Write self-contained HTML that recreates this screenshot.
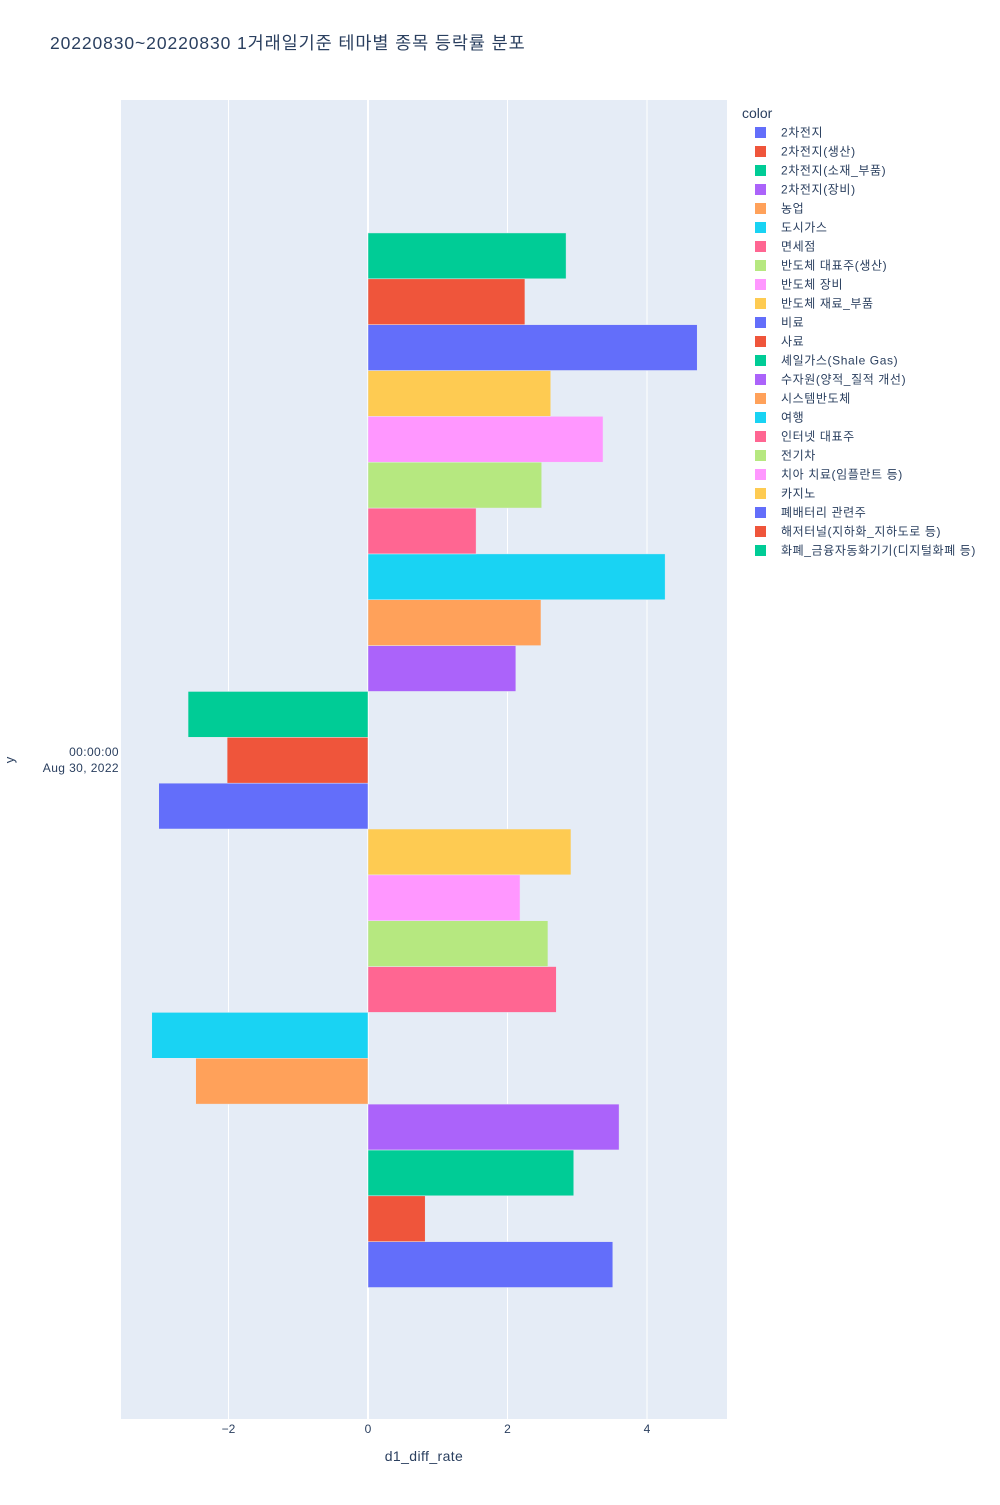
<!DOCTYPE html>
<html><head><meta charset="utf-8"><style>
body{margin:0;background:#fff;font-family:"Liberation Sans","Noto Sans CJK KR",sans-serif;}
</style></head><body>
<svg id="chart" width="1000" height="1500" xmlns="http://www.w3.org/2000/svg" style="font-family:'Liberation Sans','Noto Sans CJK KR',sans-serif">
<text x="50" y="49" font-size="17.5" letter-spacing="0.9" fill="#2a3f5f">20220830~20220830 1거래일기준 테마별 종목 등락률 분포</text>
<rect x="121" y="100" width="606" height="1319" fill="#E5ECF6"/>
<g id="grid"></g><g id="bars"></g><g id="xticks"></g><g id="legend"></g>
<text x="119" y="756" font-size="12" letter-spacing="0.4" fill="#2a3f5f" text-anchor="end">00:00:00</text>
<text x="119" y="772" font-size="12" letter-spacing="0.4" fill="#2a3f5f" text-anchor="end">Aug 30, 2022</text>
<text x="14" y="760" font-size="13" fill="#2a3f5f" text-anchor="middle" transform="rotate(-90 14 760)">y</text>
<text x="424" y="1461" font-size="14" letter-spacing="0.4" fill="#2a3f5f" text-anchor="middle">d1_diff_rate</text>
<text x="742" y="118" font-size="14" fill="#2a3f5f">color</text>
</svg>
<script>
const categories=["2차전지","2차전지(생산)","2차전지(소재_부품)","2차전지(장비)","농업","도시가스","면세점","반도체 대표주(생산)","반도체 장비","반도체 재료_부품","비료","사료","셰일가스(Shale Gas)","수자원(양적_질적 개선)","시스템반도체","여행","인터넷 대표주","전기차","치아 치료(임플란트 등)","카지노","폐배터리 관련주","해저터널(지하화_지하도로 등)","화폐_금융자동화기기(디지털화폐 등)"];
const values=[3.51,0.82,2.95,3.60,-2.47,-3.10,2.70,2.58,2.18,2.91,-3.00,-2.02,-2.58,2.12,2.48,4.26,1.55,2.49,3.37,2.62,4.72,2.25,2.84];
const xTicks=[-2,0,2,4];
const tickLabels=["−2","0","2","4"];
const palette=["#636efa","#EF553B","#00cc96","#ab63fa","#FFA15A","#19d3f3","#FF6692","#B6E880","#FF97FF","#FECB52"];
const NS="http://www.w3.org/2000/svg";
const xs=v=>368+v*69.75;
const barH=45.85, bottom=1287.5;
const yTop=i=>bottom-(i+1)*barH;
function mk(t,a,p){const e=document.createElementNS(NS,t);for(const k in a)e.setAttribute(k,a[k]);p.appendChild(e);return e;}
const grid=document.getElementById('grid'),bars=document.getElementById('bars'),xt=document.getElementById('xticks'),lg=document.getElementById('legend');
xTicks.forEach((t,i)=>{
 const l=mk('line',{x1:xs(t),x2:xs(t),y1:100,y2:1419,stroke:'#fff','stroke-width':t===0?2:1},grid);
 
 
 const tx=mk('text',{x:xs(t),y:1433,'font-size':12,fill:'#2a3f5f','text-anchor':'middle'},xt);
 tx.textContent=tickLabels[i];
 
 
});
values.forEach((v,i)=>{
 const x0=Math.min(xs(0),xs(v)),w=Math.abs(xs(v)-xs(0));
 const r=mk('rect',{x:x0,y:yTop(i),width:w,height:barH,fill:palette[i%10],stroke:'#E5ECF6','stroke-width':0.5},bars);
 
 
});
categories.forEach((c,i)=>{
 const y=132+i*19;
 const s=mk('rect',{x:755,y:y-5,width:11,height:11,fill:palette[i%10]},lg);
 
 
 const t=mk('text',{x:781,y:y+4.5,'font-size':12,'letter-spacing':0.6,fill:'#2a3f5f'},lg);
 t.textContent=c;
 
 
});
</script>
</body></html>
